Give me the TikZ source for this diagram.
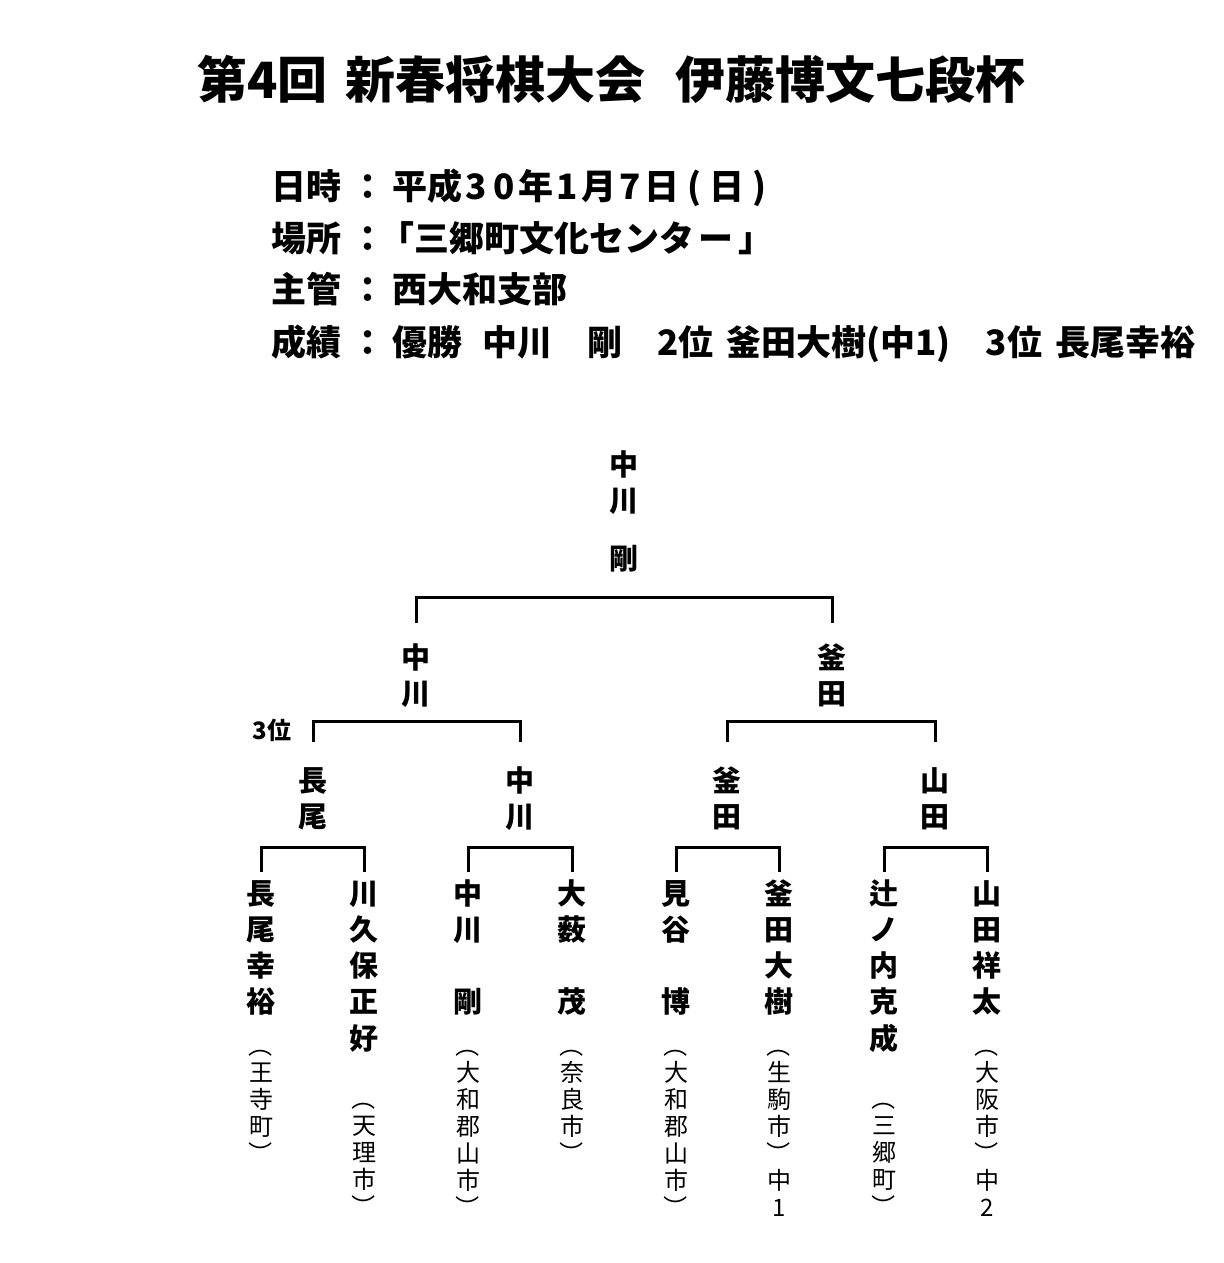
\documentclass[tikz,border=0pt]{standalone}
\usepackage{graphicx}
\usepackage{fontspec}
\setmainfont{Noto Sans CJK JP}
\newcommand{\emtop}{\rule{0pt}{0.88em}}
\newcommand{\kakkoL}{\rotatebox[origin=c]{-90}{（}}
\newcommand{\kakkoR}{\rotatebox[origin=c]{-90}{）}}
\newcommand{\hk}[1]{\makebox[28pt]{#1}}
\begin{document}
\begin{tikzpicture}[x=1pt,y=-1pt,line join=miter,
		waku/.style={line width=3pt},
		kachi/.style={anchor=north,inner sep=0pt,align=center,font=\bfseries\fontsize{29}{36.2}\selectfont},
		shozoku/.style={anchor=north,inner sep=0pt,align=center,font=\fontsize{24}{27}\selectfont},
		gyo/.style={anchor=base west,inner sep=0pt,font=\bfseries\fontsize{35}{40}\selectfont}]
	\useasboundingbox (0,0) rectangle (1223,1263);
	% title and outline
	\node[anchor=base west,inner sep=0pt,font=\bfseries\fontsize{50}{55}\selectfont] (title) at (197,99) {第4回\hspace{18pt}新春将棋大会\hspace{30pt}伊藤博文七段杯};
	\node[gyo] (nichiji) at (271,199) {\makebox[79pt][l]{日時}\makebox[35pt]{：}\hspace{7pt}平成\hk{3}\hk{0}年\hk{1}月\hk{7}日\makebox[30pt]{(}日\makebox[30pt]{)}};
	\node[gyo] (basho) at (271,251) {\makebox[79pt][l]{場所}\makebox[35pt]{：}\hspace{-6pt}「三郷町文化センタ\hspace{4pt}ー\hspace{5pt}」};
	\node[gyo] (shukan) at (271,302) {\makebox[79pt][l]{主管}\makebox[35pt]{：}\hspace{7pt}西大和支部};
	\node[gyo] (seiseki) at (271,355) {\makebox[79pt][l]{成績}\makebox[35pt]{：}\hspace{7pt}優勝\hspace{20pt}中川　剛　2位\hspace{13pt}釜田大樹(中1)　3位\hspace{13pt}長尾幸裕};
	% winner
	\node[kachi] (yusho) at (624,449.5) {\emtop 中\\川\\[22pt]剛};
	% final
	\node[kachi] (k1) at (416,642.5) {\emtop 中\\川};
	\node[kachi] (k2) at (832,642.5) {\emtop 釜\\田};
	\draw[waku,shorten <=19.5pt,shorten >=19.5pt] (k1.north) -- ++(0,-45.5) -| (k2.north);
	% semifinal
	\node[kachi] (j1) at (313,765.5) {\emtop 長\\尾};
	\node[kachi] (j2) at (520,765.5) {\emtop 中\\川};
	\node[kachi] (j3) at (727,765.5) {\emtop 釜\\田};
	\node[kachi] (j4) at (935,765.5) {\emtop 山\\田};
	\draw[waku,shorten <=23.5pt,shorten >=23.5pt] (j1.north) -- ++(0,-44.5) -| (j2.north);
	\draw[waku,shorten <=23.5pt,shorten >=23.5pt] (j3.north) -- ++(0,-44.5) -| (j4.north);
	\node[font=\bfseries\fontsize{24}{26}\selectfont,inner sep=0pt] (sani) at (272,730) {3位};
	% first round
	\node[kachi] (s1) at (261,878.5) {\emtop 長\\尾\\幸\\裕};
	\node[kachi] (s2) at (364,878.5) {\emtop 川\\久\\保\\正\\好};
	\node[kachi] (s3) at (468,878.5) {\emtop 中\\川\\　\\剛};
	\node[kachi] (s4) at (572,878.5) {\emtop 大\\薮\\　\\茂};
	\node[kachi] (s5) at (676,878.5) {\emtop 見\\谷\\　\\博};
	\node[kachi] (s6) at (779,878.5) {\emtop 釜\\田\\大\\樹};
	\node[kachi] (s7) at (884,878.5) {\emtop 辻\\ノ\\内\\克\\成};
	\node[kachi] (s8) at (987,878.5) {\emtop 山\\田\\祥\\太};
	\draw[waku,shorten <=6.5pt,shorten >=6.5pt] (s1.north) -- ++(0,-31.5) -| (s2.north);
	\draw[waku,shorten <=6.5pt,shorten >=6.5pt] (s3.north) -- ++(0,-31.5) -| (s4.north);
	\draw[waku,shorten <=6.5pt,shorten >=6.5pt] (s5.north) -- ++(0,-31.5) -| (s6.north);
	\draw[waku,shorten <=6.5pt,shorten >=6.5pt] (s7.north) -- ++(0,-31.5) -| (s8.north);
	% home towns
	\node[shozoku] (t1) at (261,1033.5) {\emtop\kakkoL\\王\\寺\\町\\\kakkoR};
	\node[shozoku] (t2) at (364,1086) {\emtop\kakkoL\\天\\理\\市\\\kakkoR};
	\node[shozoku] (t3) at (468,1033.5) {\emtop\kakkoL\\大\\和\\郡\\山\\市\\\kakkoR};
	\node[shozoku] (t4) at (572,1033.5) {\emtop\kakkoL\\奈\\良\\市\\\kakkoR};
	\node[shozoku] (t5) at (676,1033.5) {\emtop\kakkoL\\大\\和\\郡\\山\\市\\\kakkoR};
	\node[shozoku] (t6) at (779,1033.5) {\emtop\kakkoL\\生\\駒\\市\\\kakkoR\\中\\1};
	\node[shozoku] (t7) at (884,1086) {\emtop\kakkoL\\三\\郷\\町\\\kakkoR};
	\node[shozoku] (t8) at (987,1033.5) {\emtop\kakkoL\\大\\阪\\市\\\kakkoR\\中\\2};
\end{tikzpicture}
\end{document}
